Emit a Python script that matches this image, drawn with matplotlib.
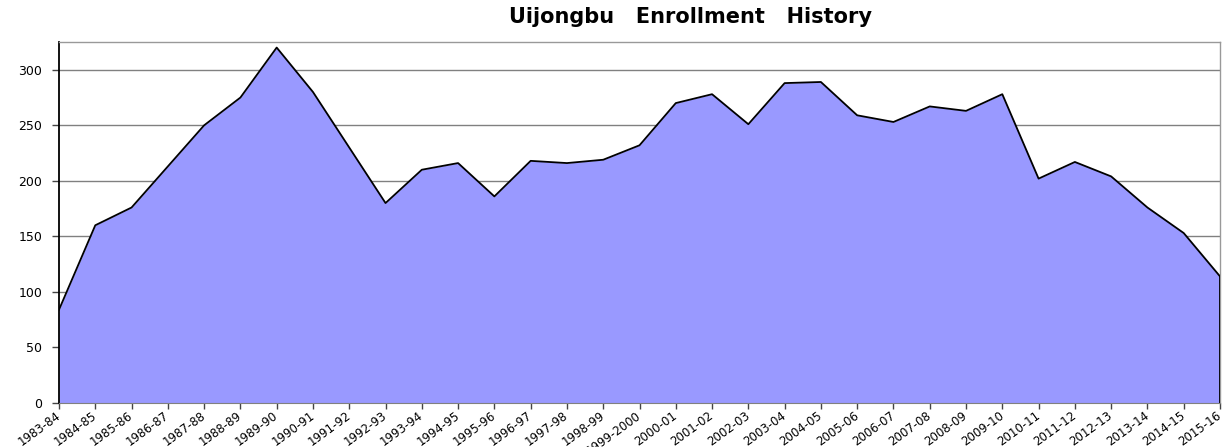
import matplotlib.pyplot as plt

SEASONS = ["1983-84", "1984-85", "1985-86", "1986-87", "1987-88", "1988-89",
           "1989-90", "1990-91", "1991-92", "1992-93", "1993-94", "1994-95",
           "1995-96", "1996-97", "1997-98", "1998-99", "1999-2000", "2000-01",
           "2001-02", "2002-03", "2003-04", "2004-05", "2005-06", "2006-07",
           "2007-08", "2008-09", "2009-10", "2010-11", "2011-12", "2012-13",
           "2013-14", "2014-15", "2015-16"]
ENROLLMENT = [84, 160, 176, 213, 250, 275, 320, 280, 230, 180, 210, 216,
              186, 218, 216, 219, 232, 270, 278, 251, 288, 289, 259, 253,
              267, 263, 278, 202, 217, 204, 176, 153, 114]
Y_TICKS = [0, 50, 100, 150, 200, 250, 300]

plt.rcParams["font.family"] = ["DejaVu Sans"]

fig = plt.figure(figsize=(12.3, 4.47), dpi=100)
ax = fig.add_axes([59 / 1230, 1 - 403 / 447, (1220 - 59) / 1230, (403 - 42) / 447])

x = list(range(len(SEASONS)))
ax.fill_between(x, ENROLLMENT, 0, color="#9999ff", linewidth=0, zorder=2)
ax.plot(x, ENROLLMENT, color="black", linewidth=1.3, zorder=3)
ax.plot([x[-1], x[-1]], [0, ENROLLMENT[-1]], color="black", linewidth=1.3, zorder=3)

ax.set_xlim(0, len(SEASONS) - 1)
ax.set_ylim(0, 325)
ax.set_yticks(Y_TICKS)
ax.set_xticks(x)
ax.set_xticklabels(SEASONS, rotation=36, ha="right", va="center",
                   rotation_mode="anchor", fontsize=8.5)
ax.tick_params(axis="y", labelsize=9, length=5, width=1, color="#444444", pad=7)
ax.tick_params(axis="x", length=4, width=1, color="#444444", pad=4)

ax.yaxis.grid(True, color="#808080", linewidth=1, zorder=1)
ax.set_axisbelow(True)

ax.spines["left"].set_color("black")
ax.spines["left"].set_linewidth(1.3)
ax.spines["bottom"].set_color("#808080")
for side in ("top", "right"):
    ax.spines[side].set_color("#999999")
    ax.spines[side].set_linewidth(1)

fig.text(690 / 1230, 1 - 17 / 447, "Uijongbu   Enrollment   History",
         ha="center", va="center", fontsize=15, fontweight="bold")

fig.savefig("out.png", dpi=100)
